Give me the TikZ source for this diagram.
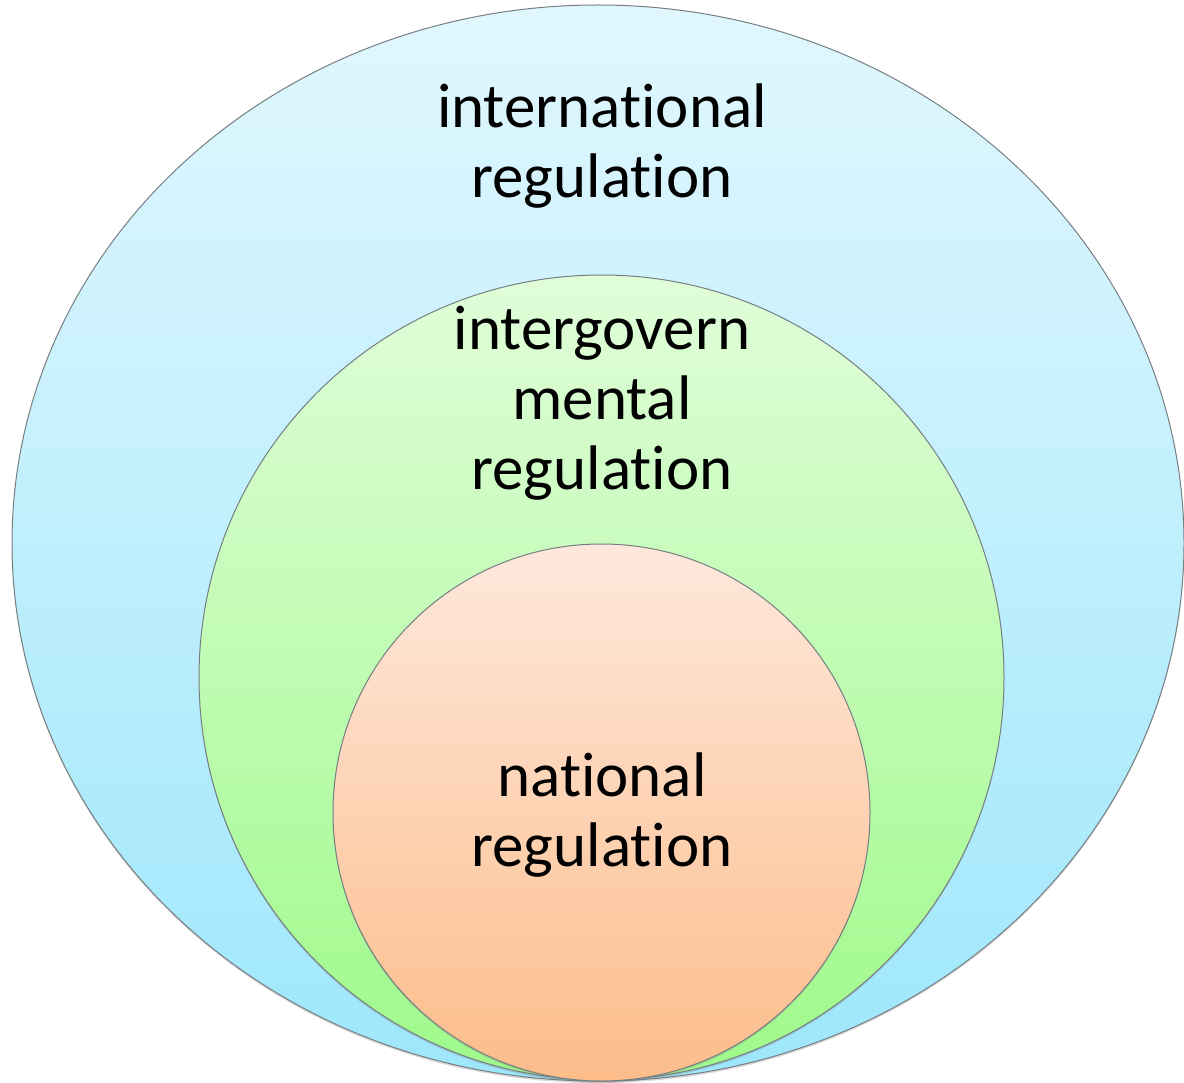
\documentclass[tikz,border=0pt]{standalone}
\usepackage{fontspec}
\setmainfont{Carlito}[Ligatures=NoCommon]
\usetikzlibrary{shapes.geometric,shadows}

\begin{document}
\begin{tikzpicture}[x=1pt,y=-1pt,
  ring/.style={draw={rgb,255:red,118;green,126;blue,130},line width=1pt,inner sep=0pt,
    drop shadow={opacity=0.3,shadow xshift=0pt,shadow yshift=-2pt}},
  label/.style={align=center,inner sep=0pt,font=\fontsize{63}{70}\selectfont}]
\useasboundingbox (0,0) rectangle (1184,1083);

%Shape: Ellipse (international)
\node [ring,ellipse,minimum width=1172pt,minimum height=1076pt,
  top color={rgb,255:red,225;green,247;blue,254},bottom color={rgb,255:red,158;green,231;blue,252}] (intl) at (598,543) {};
%Shape: Circle (intergovernmental)
\node [ring,circle,minimum size=805pt,
  top color={rgb,255:red,224;green,253;blue,217},bottom color={rgb,255:red,158;green,250;blue,138}] (inter) at (601.5,677.5) {};
%Shape: Circle (national)
\node [ring,circle,minimum size=537pt,
  top color={rgb,255:red,254;green,232;blue,220},bottom color={rgb,255:red,252;green,189;blue,138}] (nat) at (601.5,812.5) {};

% Text Node
\node [label] (intltext) at (602,146) {international\\regulation};
% Text Node
\node [label] (intertext) at (602,403.5) {intergovern\\mental\\regulation};
% Text Node
\node [label] (nattext) at (602,815.5) {national\\regulation};

\end{tikzpicture}
\end{document}
